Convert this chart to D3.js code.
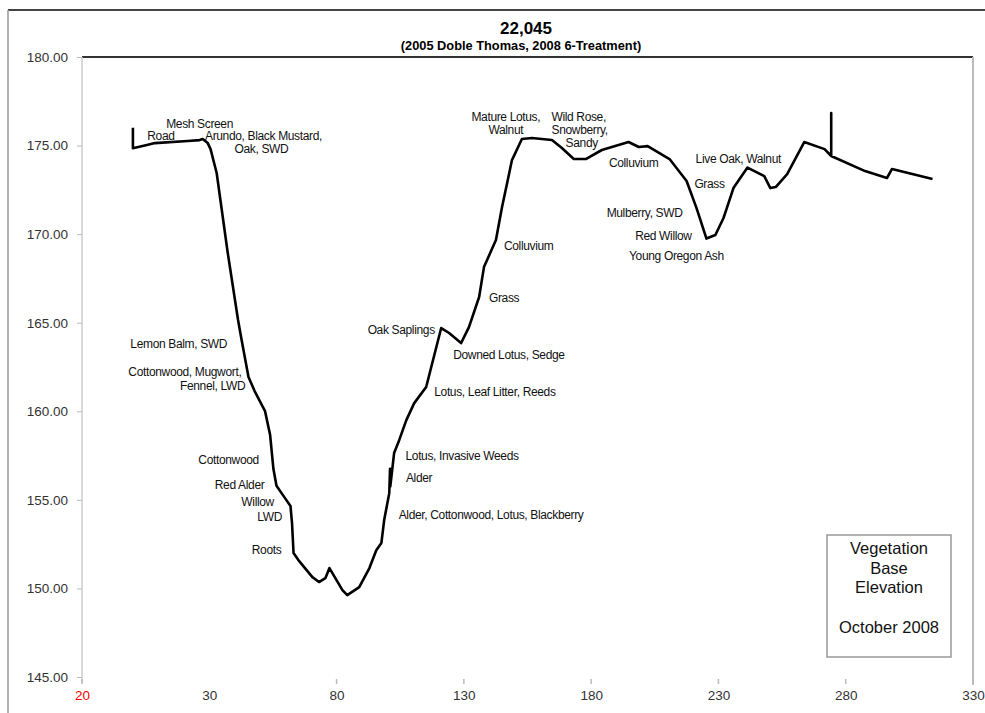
<!DOCTYPE html>
<html lang="en">
<head>
<meta charset="utf-8"/>
<title>22,045 Vegetation Base Elevation</title>
<script src="https://cdnjs.cloudflare.com/ajax/libs/d3/7.8.5/d3.min.js"></script>
<style>
  body { margin: 0; background: #fff; }
  svg { font-family: "Liberation Sans", Arial, sans-serif; }
  .lbl { font-size: 12px; fill: #111; letter-spacing: -0.35px; }
  .tick text { font-size: 13.5px; fill: #333; }
</style>
</head>
<body>
<svg id="chart" width="985" height="713"></svg>
<script>
// station (ft) along the cross-section
var station = [0, 0, 5.5, 8.6, 21.5, 26.2, 27.4, 29.4, 30.5, 32.9, 37.2, 41.3, 42.7, 45.4, 47.8, 51.9,
  53.9, 55.2, 56.4, 59.2, 61.9, 62.5, 63.1, 65.0, 70.5, 73.1, 75.6, 77.2, 82.3, 84.2, 88.9, 92.9,
  95.6, 97.6, 98.7, 100.7, 101.0, 101.1, 102.6, 104.6, 107.4, 110.5, 115.2, 121.1, 124.2, 128.9,
  132.0, 136.0, 137.9, 142.6, 145.0, 148.9, 152.8, 156.7, 164.6, 168.5, 173.2, 177.9, 184.2, 194.7,
  198.7, 202.2, 210.8, 217.5, 221.4, 225.3, 228.8, 232.0, 235.9, 241.4, 248.0, 250.4, 252.5, 257.0,
  263.7, 271.7, 274.3, 274.3, 274.3, 287.6, 296.2, 298.2, 314.1];
// elevation (ft)
var elevation = [176.0, 174.85, 175.03, 175.14, 175.26, 175.31, 175.37, 175.14, 174.8, 173.45, 168.99,
  165.15, 164.02, 161.93, 161.14, 160.01, 158.66, 156.74, 155.8, 155.21, 154.65, 153.69, 152.0, 151.6,
  150.64, 150.36, 150.58, 151.15, 149.9, 149.62, 150.07, 151.15, 152.16, 152.56, 153.86, 155.38,
  156.75, 155.75, 157.64, 158.37, 159.5, 160.46, 161.37, 164.7, 164.42, 163.85, 164.75, 166.45,
  168.14, 169.67, 171.53, 174.18, 175.37, 175.43, 175.31, 174.86, 174.24, 174.24, 174.75, 175.2,
  174.92, 174.97, 174.24, 173.0, 171.47, 169.75, 169.95, 170.91, 172.6, 173.76, 173.28, 172.6,
  172.66, 173.39, 175.2, 174.8, 174.41, 176.84, 174.41, 173.56, 173.17, 173.68, 173.11];

var yTicks = [145, 150, 155, 160, 165, 170, 175, 180];
var xTicks = [-20, 30, 80, 130, 180, 230, 280, 330];
var xTickLabels = ["20", "30", "80", "130", "180", "230", "280", "330"];
var xTickMarks = [-20, 80, 130, 180, 230, 280];

// vegetation notes: [text, station, elevation]
var notes = [
  ["Mesh Screen", 26.2, 176.22],
  ["Road", 11.0, 175.54],
  ["Arundo, Black Mustard,", 51.3, 175.54],
  ["Oak, SWD", 50.5, 174.81],
  ["Lemon Balm, SWD", 18.0, 163.79],
  ["Cottonwood, Mugwort,", 20.4, 162.21],
  ["Fennel, LWD", 31.3, 161.42],
  ["Cottonwood", 37.6, 157.24],
  ["Red Alder", 41.9, 155.83],
  ["Willow", 49.0, 154.87],
  ["LWD", 53.7, 154.03],
  ["Roots", 52.5, 152.16],
  ["Lotus, Invasive Weeds", 129.3, 157.47],
  ["Alder", 112.4, 156.23],
  ["Alder, Cottonwood, Lotus, Blackberry", 140.7, 154.14],
  ["Lotus, Leaf Litter, Reeds", 142.2, 161.08],
  ["Oak Saplings", 105.4, 164.58],
  ["Downed Lotus, Sedge", 147.7, 163.17],
  ["Grass", 145.8, 166.39],
  ["Colluvium", 155.5, 169.33],
  ["Mature Lotus,", 146.5, 176.61],
  ["Walnut", 146.5, 175.88],
  ["Wild Rose,", 175.1, 176.61],
  ["Snowberry,", 175.5, 175.88],
  ["Sandy", 176.3, 175.14],
  ["Colluvium", 196.7, 174.01],
  ["Live Oak, Walnut", 237.8, 174.24],
  ["Grass", 226.5, 172.83],
  ["Mulberry, SWD", 201.0, 171.19],
  ["Red Willow", 208.4, 169.89],
  ["Young Oregon Ash", 213.5, 168.76]
];

var legendLines = ["Vegetation", "Base", "Elevation", "", "October 2008"];

var svg = d3.select("#chart");
var plotL = 82, plotR = 973, plotT = 57, plotB = 677;

var x = d3.scaleLinear().domain([-20, 330]).range([plotL, plotR]);
var y = d3.scaleLinear().domain([145, 180]).range([plotB, plotT]);

// outer frame
svg.append("line").attr("x1", 8).attr("x2", 985).attr("y1", 10).attr("y2", 10)
  .attr("stroke", "#444").attr("stroke-width", 2);
svg.append("line").attr("x1", 8).attr("x2", 8).attr("y1", 10).attr("y2", 713)
  .attr("stroke", "#999").attr("stroke-width", 1.5);

// title
svg.append("text").attr("x", 526).attr("y", 34).attr("text-anchor", "middle")
  .style("font-size", "17px").style("font-weight", "bold").text("22,045");
svg.append("text").attr("x", 521).attr("y", 50).attr("text-anchor", "middle")
  .style("font-size", "12.8px").style("font-weight", "bold").text("(2005 Doble Thomas, 2008 6-Treatment)");

// plot borders
svg.append("line").attr("x1", plotL).attr("x2", plotR).attr("y1", plotT).attr("y2", plotT)
  .attr("stroke", "#333").attr("stroke-width", 2);
svg.append("line").attr("x1", plotR).attr("x2", plotR).attr("y1", plotT).attr("y2", plotB + 8)
  .attr("stroke", "#bbb").attr("stroke-width", 2);

// y axis
var yAxis = svg.append("g").attr("transform", "translate(" + plotL + ",0)")
  .call(d3.axisLeft(y).tickValues(yTicks).tickFormat(d3.format(".2f")).tickSize(5).tickPadding(9));
yAxis.select(".domain").attr("stroke", "#ccc").attr("stroke-width", 1.5)
  .attr("d", "M0," + plotT + "V" + (plotB + 6));
yAxis.selectAll(".tick line").attr("stroke", "#bbb");

// x axis
var xAxis = svg.append("g").attr("transform", "translate(0," + plotB + ")")
  .call(d3.axisBottom(x).tickValues(xTicks).tickFormat(function(d, i) { return xTickLabels[i]; })
    .tickSize(0).tickPadding(13));
xAxis.select(".domain").remove();
xAxis.selectAll(".tick text").style("fill", function(d, i) { return i === 0 ? "#f00" : "#333"; });
svg.append("g").selectAll("line").data(xTickMarks).enter().append("line")
  .attr("x1", function(d) { return x(d); }).attr("x2", function(d) { return x(d); })
  .attr("y1", plotB + 2).attr("y2", plotB + 7)
  .attr("stroke", "#bbb").attr("stroke-width", 1.5);

// profile line
var pts = station.map(function(s, i) { return [s, elevation[i]]; });
svg.append("path").datum(pts)
  .attr("fill", "none").attr("stroke", "#000").attr("stroke-width", 2.6)
  .attr("stroke-linejoin", "round")
  .attr("d", d3.line().x(function(d) { return x(d[0]); }).y(function(d) { return y(d[1]); }));

// notes
svg.append("g").selectAll("text").data(notes).enter().append("text")
  .attr("class", "lbl")
  .attr("x", function(d) { return x(d[1]); })
  .attr("y", function(d) { return y(d[2]); })
  .attr("text-anchor", "middle").attr("dominant-baseline", "central")
  .text(function(d) { return d[0]; });

// legend box
svg.append("rect").attr("x", 827).attr("y", 535).attr("width", 124).attr("height", 122)
  .attr("fill", "#fff").attr("stroke", "#999").attr("stroke-width", 1.5);
svg.append("g").selectAll("text").data(legendLines).enter().append("text")
  .attr("x", 889).attr("y", function(d, i) { return 554 + i * 19.7; })
  .attr("text-anchor", "middle").style("font-size", "16.5px").style("fill", "#111")
  .text(function(d) { return d; });
</script>
</body>
</html>
